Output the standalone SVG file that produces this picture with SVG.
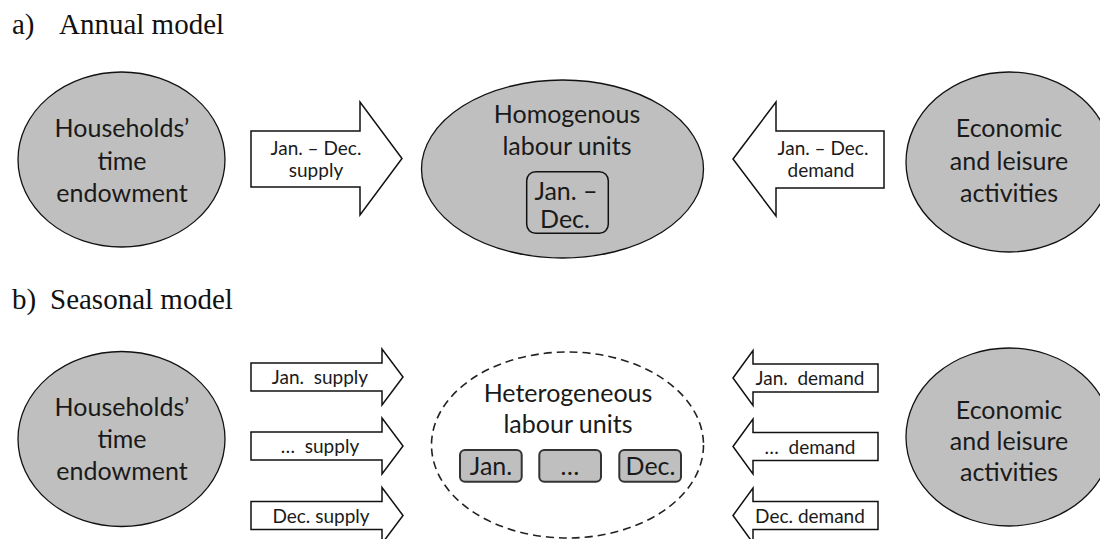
<svg xmlns="http://www.w3.org/2000/svg" width="1100" height="539" viewBox="0 0 1100 539">
  <style>
    .title { font-family: "Liberation Serif", "Times New Roman", serif; font-size: 29px; fill: #111; }
    .node { fill: #bfbfbf; stroke: #111; stroke-width: 1.3; }
    .dashed { fill: none; stroke: #222; stroke-width: 1.6; stroke-dasharray: 8 5; }
    .unit { fill: #bfbfbf; stroke: #111; stroke-width: 1.5; }
    .month { fill: #bfbfbf; stroke: #333; stroke-width: 2; }
    .arrow { fill: #fff; stroke: #111; stroke-width: 1.5; stroke-linejoin: miter; }
    .lbl { font-family: Lato, "Noto Sans", sans-serif; font-size: 25px; fill: #1a1a1a; text-anchor: middle; }
    .sm { font-family: Lato, "Noto Sans", sans-serif; font-size: 19px; fill: #1a1a1a; text-anchor: middle; white-space: pre; }
  </style>

  <!-- section headings -->
  <text class="title" x="12" y="34">a)</text>
  <text class="title" x="59" y="34">Annual model</text>
  <text class="title" x="12" y="309">b)</text>
  <text class="title" x="50" y="309">Seasonal model</text>

  <!-- a) annual model -->
  <g id="a-households">
    <ellipse class="node" cx="121.5" cy="159.5" rx="103.5" ry="87.5"/>
    <text class="lbl" x="122" y="137">Households’</text>
    <text class="lbl" x="122" y="170">time</text>
    <text class="lbl" x="122" y="202">endowment</text>
  </g>

  <g id="a-labour">
    <ellipse class="node" cx="562.5" cy="169" rx="141" ry="89"/>
    <text class="lbl" x="567" y="123">Homogenous</text>
    <text class="lbl" x="567" y="155">labour units</text>
    <g id="a-unit-jan-dec">
      <rect class="unit" x="526.7" y="171.7" width="81.6" height="61.6" rx="9"/>
      <text class="lbl" x="566" y="200">Jan. –</text>
      <text class="lbl" x="565" y="228">Dec.</text>
    </g>
  </g>

  <g id="a-activities">
    <ellipse class="node" cx="1009" cy="162" rx="103" ry="90"/>
    <text class="lbl" x="1009" y="137">Economic</text>
    <text class="lbl" x="1009" y="170">and leisure</text>
    <text class="lbl" x="1009" y="202">activities</text>
  </g>

  <!-- b) seasonal model -->
  <g id="b-households">
    <ellipse class="node" cx="121.5" cy="439" rx="103.5" ry="87.5"/>
    <text class="lbl" x="122" y="416">Households’</text>
    <text class="lbl" x="122" y="448">time</text>
    <text class="lbl" x="122" y="480">endowment</text>
  </g>

  <g id="b-labour">
    <ellipse class="dashed" cx="567.5" cy="445" rx="136" ry="93"/>
    <text class="lbl" x="568" y="402">Heterogeneous</text>
    <text class="lbl" x="568" y="433">labour units</text>
    <g id="b-unit-jan">
      <rect class="month" x="460" y="450" width="61.7" height="31.7" rx="5"/>
      <text class="lbl" x="491" y="475">Jan.</text>
    </g>
    <g id="b-unit-mid">
      <rect class="month" x="539.3" y="450" width="61.7" height="31.7" rx="5"/>
      <text class="lbl" x="570" y="475">…</text>
    </g>
    <g id="b-unit-dec">
      <rect class="month" x="619.3" y="450" width="61.7" height="31.7" rx="5"/>
      <text class="lbl" x="650.5" y="475">Dec.</text>
    </g>
  </g>

  <g id="b-activities">
    <ellipse class="node" cx="1009" cy="437" rx="103" ry="89"/>
    <text class="lbl" x="1009" y="419">Economic</text>
    <text class="lbl" x="1009" y="450">and leisure</text>
    <text class="lbl" x="1009" y="481">activities</text>
  </g>

  <!-- block arrows: supply flows right, demand flows left -->
  <g id="connectors">
    <g id="a-supply">
      <polygon class="arrow" points="251,131 360,131 360,102 402,158.5 360,215 360,187 251,187"/>
      <text class="sm" x="316" y="154.5">Jan. – Dec.</text>
      <text class="sm" x="316" y="177">supply</text>
    </g>
    <g id="a-demand">
      <polygon class="arrow" points="733,159 776,102 776,131 884,131 884,188 776,188 776,216"/>
      <text class="sm" x="823" y="154.5">Jan. – Dec.</text>
      <text class="sm" x="821" y="177">demand</text>
    </g>

    <g id="b-supply-jan">
      <polygon class="arrow" points="251,363 382,363 382,349 403,377 382,405 382,391 251,391"/>
      <text class="sm" x="320" y="384">Jan.  supply</text>
    </g>
    <g id="b-supply-mid">
      <polygon class="arrow" points="251,432 382,432 382,418 403,446 382,474 382,460 251,460"/>
      <text class="sm" x="320" y="453">…  supply</text>
    </g>
    <g id="b-supply-dec">
      <polygon class="arrow" points="251,501.5 382,501.5 382,487.5 403,515.5 382,543.5 382,529.5 251,529.5"/>
      <text class="sm" x="321" y="522.5">Dec. supply</text>
    </g>

    <g id="b-demand-jan">
      <polygon class="arrow" points="733,378 753,350.5 753,364 878,364 878,392 753,392 753,405.5"/>
      <text class="sm" x="810" y="385">Jan.  demand</text>
    </g>
    <g id="b-demand-mid">
      <polygon class="arrow" points="733,446.5 753,419 753,432.5 878,432.5 878,460.5 753,460.5 753,474"/>
      <text class="sm" x="810" y="453.5">…  demand</text>
    </g>
    <g id="b-demand-dec">
      <polygon class="arrow" points="733,515.5 753,488 753,501.5 878,501.5 878,529.5 753,529.5 753,543"/>
      <text class="sm" x="810" y="522.5">Dec. demand</text>
    </g>
  </g>
</svg>
